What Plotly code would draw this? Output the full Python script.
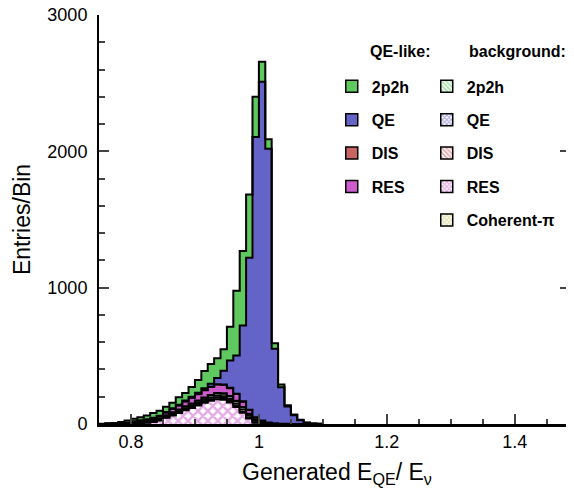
import numpy as np
import plotly.graph_objects as go

# bin low edges (width 0.01) of generated E_QE / E_nu
edges = [0.75, 0.76, 0.77, 0.78, 0.79, 0.80, 0.81, 0.82, 0.83, 0.84,
         0.85, 0.86, 0.87, 0.88, 0.89, 0.90, 0.91, 0.92, 0.93, 0.94,
         0.95, 0.96, 0.97, 0.98, 0.99, 1.00, 1.01, 1.02, 1.03, 1.04,
         1.05, 1.06, 1.07, 1.08, 1.09]
last_edge = 1.10

# background components (hatched)
bg_res = [0, 0, 0, 1, 2, 4, 6, 9, 14, 25, 45, 62, 80, 100, 118, 136, 155, 170, 182, 178,
          158, 125, 82, 40, 10, 3, 1, 0, 0, 0, 0, 0, 0, 0, 0]
bg_dis = [0, 0, 0, 1, 1, 2, 2, 3, 3, 4, 5, 6, 7, 8, 9, 10, 11, 12, 12, 12,
          11, 10, 8, 6, 3, 2, 1, 0, 0, 0, 0, 0, 0, 0, 0]
bg_qe = [0, 0, 0, 1, 1, 2, 3, 3, 4, 4, 5, 6, 7, 8, 9, 10, 11, 12, 13, 14,
         15, 16, 16, 14, 10, 6, 3, 2, 1, 0, 0, 0, 0, 0, 0]
bg_2p2h = [0, 1, 1, 2, 3, 4, 5, 6, 7, 8, 9, 10, 11, 12, 13, 14, 15, 16, 17, 18,
           18, 17, 16, 14, 10, 6, 3, 2, 1, 1, 0, 0, 0, 0, 0]
bg_coh = [0, 0, 0, 0, 0, 1, 1, 1, 1, 1, 1, 2, 2, 2, 2, 2, 2, 3, 3, 3,
          3, 2, 2, 1, 1, 0, 0, 0, 0, 0, 0, 0, 0, 0, 0]

# QE-like components (solid)
ql_res = [0, 0, 1, 2, 3, 5, 7, 9, 12, 15, 19, 24, 29, 35, 41, 47, 53, 58, 62, 62,
          58, 50, 40, 28, 15, 8, 3, 1, 0, 0, 0, 0, 0, 0, 0]
ql_dis = [0, 0, 0, 0, 0, 0, 1, 1, 1, 1, 1, 1, 2, 2, 2, 2, 3, 3, 3, 3,
          3, 2, 2, 1, 1, 0, 0, 0, 0, 0, 0, 0, 0, 0, 0]
ql_qe = [0, 0, 1, 1, 1, 2, 2, 2, 3, 3, 3, 4, 4, 5, 6, 8, 12, 22, 45, 100,
         200, 280, 557, 1116, 2056, 2485, 2008, 547, 268, 127, 64, 28, 10, 4, 2]
ql_2p2h = [2, 3, 5, 7, 14, 18, 23, 28, 35, 36, 39, 40, 54, 56, 72, 93, 126, 144, 145, 158,
           248, 475, 546, 463, 294, 147, 70, 41, 20, 10, 6, 3, 1, 0, 0]

GREEN = "#5fc95f"
BLUE = "#6464c8"
RED = "#c86464"
MAGENTA = "#cc5ccc"
YELLOW = "#c8c864"
FONT = "Liberation Sans, Arial, Helvetica, sans-serif"

# stack order, bottom first: (values, color, hatch or None)
stack = [
    (bg_res, MAGENTA, "x"),
    (bg_dis, RED, "\\"),
    (bg_qe, BLUE, "x"),
    (bg_2p2h, GREEN, "\\"),
    (bg_coh, YELLOW, "x"),
    (ql_res, MAGENTA, None),
    (ql_dis, RED, None),
    (ql_qe, BLUE, None),
    (ql_2p2h, GREEN, None),
]

fig = go.Figure()
xs = edges + [last_edge]
cum = np.zeros(len(edges))
for i, (vals, col, hatch) in enumerate(stack):
    cum = cum + np.array(vals, dtype=float)
    ys = list(cum) + [cum[-1]]
    kw = dict(fillcolor=col)
    if hatch:
        kw = dict(fillcolor="white",
                  fillpattern=dict(shape=hatch, fgcolor=col, bgcolor="white",
                                   size=7, solidity=0.6))
    fig.add_trace(go.Scatter(
        x=xs, y=ys, mode="lines", line=dict(shape="hv", color="black", width=2),
        fill="tozeroy" if i == 0 else "tonexty", showlegend=False,
        hoverinfo="skip", **kw))

# legend entries
ql_entries = [("2p2h", GREEN), ("QE", BLUE), ("DIS", RED), ("RES", MAGENTA)]
bg_entries = [("2p2h", GREEN, "\\"), ("QE", BLUE, "x"), ("DIS", RED, "\\"),
              ("RES", MAGENTA, "x"), ("Coherent-π", YELLOW, "x")]
for k, (name, col) in enumerate(ql_entries):
    fig.add_trace(go.Bar(x=[None], y=[None], name=name, legend="legend",
                         legendgroup="ql%d" % k,
                         marker=dict(color=col, line=dict(color="black", width=1.5))))
for k, (name, col, hatch) in enumerate(bg_entries):
    fig.add_trace(go.Bar(x=[None], y=[None], name=name, legend="legend2",
                         legendgroup="bg%d" % k,
                         marker=dict(color="white", line=dict(color="black", width=1.5),
                                     pattern=dict(shape=hatch, fgcolor=col, bgcolor="white",
                                                  size=4, solidity=0.6))))

# dummy trace so the right-hand tick axis is drawn
fig.add_trace(go.Scatter(x=[None], y=[None], yaxis="y2", showlegend=False))

legend_style = dict(font=dict(family=FONT, size=16, color="black", weight="bold"),
                    bgcolor="rgba(0,0,0,0)", traceorder="grouped", tracegroupgap=9.6,
                    xanchor="left", yanchor="top", itemclick=False)

# the page body adds an 8px offset, so margins are set 8px smaller on top/left
fig.update_layout(
    width=574, height=496,
    margin=dict(l=91, r=8, t=7, b=80, autoexpand=False),
    plot_bgcolor="white", paper_bgcolor="white",
    font=dict(family=FONT, size=18, color="black"),
    legend=dict(x=0.49, y=0.867, **legend_style),
    legend2=dict(x=0.69, y=0.867, **legend_style),
    xaxis=dict(range=[0.75, 1.4927], dtick=0.2, tick0=0, ticks="inside", ticklen=10,
               tickwidth=1.5, showline=True, linewidth=2.5, linecolor="black",
               showgrid=False, zeroline=False, ticklabelstandoff=0, automargin=False,
               ticklabeloverflow="allow",
               minor=dict(dtick=0.05, ticks="inside", ticklen=5, tickwidth=1.5)),
    yaxis=dict(range=[0, 3000], dtick=1000, ticks="inside", ticklen=10, tickwidth=1.5,
               showline=True, linewidth=2, linecolor="black", showgrid=False,
               zeroline=False, ticklabelstandoff=6, automargin=False,
               ticklabeloverflow="allow",
               minor=dict(dtick=200, ticks="inside", ticklen=6, tickwidth=1.5)),
    yaxis2=dict(range=[0, 3000], overlaying="y", side="right", anchor="x",
                dtick=1000, ticks="inside", ticklen=14, tickwidth=1.5, automargin=False,
                showticklabels=False, showline=False, showgrid=False, zeroline=False,
                minor=dict(dtick=200, ticks="inside", ticklen=7, tickwidth=1.5)),
    annotations=[
        dict(text="<b>QE-like:</b>", x=0.634, y=0.91, xref="paper", yref="paper",
             xanchor="center", yanchor="middle", showarrow=False, font=dict(size=16)),
        dict(text="<b>background:</b>", x=0.88, y=0.91, xref="paper", yref="paper",
             xanchor="center", yanchor="middle", showarrow=False, font=dict(size=16)),
        dict(text="Generated E<sub>QE</sub>/ E<sub>ν</sub>", x=0.5, y=-0.12,
             xref="paper", yref="paper", showarrow=False, font=dict(size=23),
             xanchor="center", yanchor="middle"),
        dict(text="Entries/Bin", x=-0.163, y=0.5, xref="paper", yref="paper",
             showarrow=False, font=dict(size=23), textangle=-90,
             xanchor="center", yanchor="middle"),
    ],
)

fig.write_html("out.html")
